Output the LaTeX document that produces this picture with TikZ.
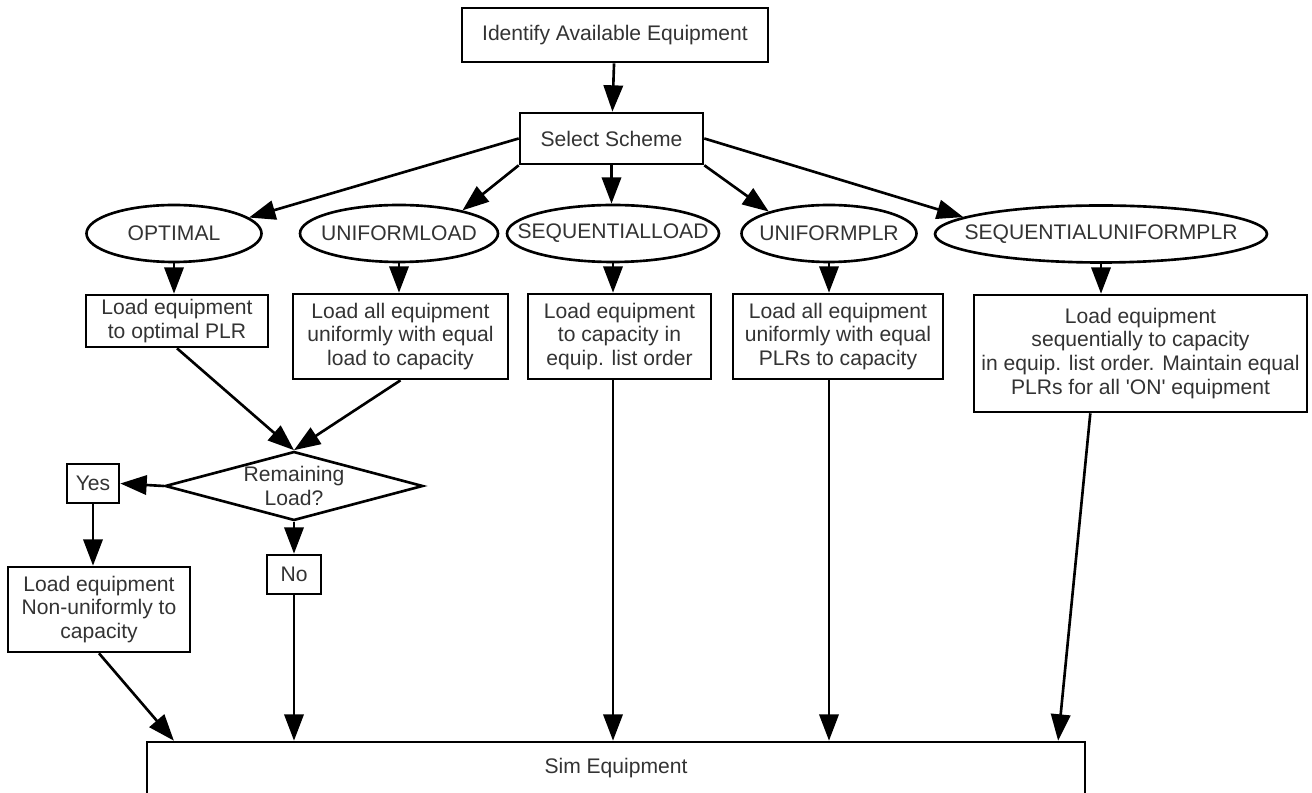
\documentclass[tikz,border=0pt]{standalone}
\usepackage{fontspec}
\setmainfont{Liberation Sans}
\usetikzlibrary{arrows.meta, positioning, shapes.geometric, calc}
\definecolor{inktext}{HTML}{333333}
\newcommand{\schemename}[1]{\makebox[0pt]{#1}}
\tikzset{
  procbox/.style={draw=black, line width=1.5pt, rectangle, align=center, inner sep=0pt, text=inktext},
  scheme/.style={draw=black, line width=1.5pt, ellipse, inner sep=0pt, minimum height=1.14cm, text=inktext},
  flowarr/.style={-{Triangle[length=15pt,width=11pt]}, line width=1.5pt},
}
\begin{document}
\begin{tikzpicture}[font=\fontsize{12}{13.6}\selectfont]
    \useasboundingbox (0,0) rectangle (26.24,-15.86);
    \clip (0,0) rectangle (26.24,-15.86);

    % top of the chart
    \node[procbox, minimum width=6.12cm, minimum height=1.08cm] (ident) at (12.30,-0.70) {Identify Available Equipment};
    \node[procbox, minimum width=3.66cm, minimum height=1.02cm] (sel) at (12.23,-2.77) {Select Scheme};
    \draw[flowarr] (ident) -- (sel);

    % the five schemes
    \node[scheme, minimum width=3.50cm] (opt) at (3.48,-4.67) {\schemename{OPTIMAL}};
    \node[scheme, minimum width=3.96cm] (uni) at (7.98,-4.67) {\schemename{UNIFORMLOAD}};
    \node[scheme, minimum width=4.24cm] (seql) at (12.26,-4.67) {\schemename{SEQUENTIALLOAD}};
    \node[scheme, minimum width=3.50cm] (upl) at (16.58,-4.67) {\schemename{UNIFORMPLR}};
    \node[scheme, minimum width=6.64cm] (supl) at (22.02,-4.68) {\schemename{SEQUENTIALUNIFORMPLR}};

    \draw[flowarr] (sel.west) -- (opt.12);
    \draw[flowarr] (sel.south west) -- (uni.20);
    \draw[flowarr] (sel.south) -- (sel.south |- seql.north);
    \draw[flowarr] (sel.south east) -- (upl.160);
    \draw[flowarr] (sel.east) -- (supl.173);

    % what each scheme does
    \node[procbox, minimum width=3.64cm, minimum height=1.04cm] (b1) at (3.54,-6.42) {Load equipment\\to optimal PLR};
    \node[procbox, minimum width=4.30cm, minimum height=1.70cm] (b2) at (8.01,-6.73) {Load all equipment\\uniformly with equal\\load to capacity};
    \node[procbox, minimum width=3.66cm, minimum height=1.70cm] (b3) at (12.39,-6.73) {Load equipment\\to capacity in\\equip. list order};
    \node[procbox, minimum width=4.20cm, minimum height=1.70cm] (b4) at (16.76,-6.73) {Load all equipment\\uniformly with equal\\PLRs to capacity};
    \node[procbox, minimum width=6.66cm, minimum height=2.34cm] (b5) at (22.81,-7.07) {Load equipment\\sequentially to capacity\\in equip. list order. Maintain equal\\PLRs for all \textquotesingle ON\textquotesingle{} equipment};

    \draw[flowarr] (opt.south) -- (opt.south |- b1.north);
    \draw[flowarr] (uni.south) -- (uni.south |- b2.north);
    \draw[flowarr] (seql.south) -- (seql.south |- b3.north);
    \draw[flowarr] (upl.south) -- (upl.south |- b4.north);
    \draw[flowarr] (supl.south) -- (supl.south |- b5.north);

    % remaining load check
    \node[procbox, diamond, aspect=3.74, minimum width=5.16cm, minimum height=1.38cm] (dec) at (5.88,-9.72) {Remaining\\Load?};
    \node[procbox, minimum width=1.04cm, minimum height=0.78cm] (yes) at (1.86,-9.67) {Yes};
    \node[procbox, minimum width=1.08cm, minimum height=0.78cm] (no) at (5.88,-11.49) {No};
    \node[procbox, minimum width=3.64cm, minimum height=1.70cm] (nonu) at (1.98,-12.19) {Load equipment\\Non-uniformly to\\capacity};

    \draw[flowarr] (b1.south) -- (dec.north);
    \draw[flowarr] (b2.south) -- (dec.north);
    \draw[flowarr] (dec.west) -- (yes.east);
    \draw[flowarr] (dec.south) -- (no.north);
    \draw[flowarr] (yes.south) -- (yes.south |- nonu.north);

    % everything ends here
    \node[procbox, minimum width=18.76cm, minimum height=1.04cm] (sim) at (12.32,-15.36) {Sim Equipment};

    \draw[flowarr] (nonu.south) -- ($(sim.north west)!0.03!(sim.north east)$);
    \draw[flowarr] (no.south) -- (no.south |- sim.north);
    \draw[flowarr] (seql.south |- b3.south) -- (seql.south |- sim.north);
    \draw[flowarr] (upl.south |- b4.south) -- (upl.south |- sim.north);
    \draw[flowarr] (b5.-130) -- ($(sim.north west)!0.97!(sim.north east)$);
  \end{tikzpicture}
\end{document}
